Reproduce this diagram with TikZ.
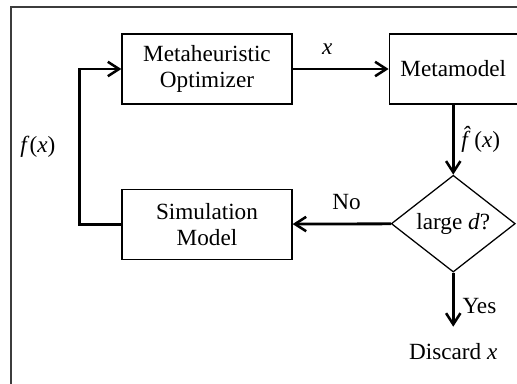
\documentclass[tikz,border=0pt]{standalone}
\usepackage{fontspec}
\setmainfont{Liberation Serif}
\usetikzlibrary{arrows.meta, positioning, shapes.geometric}
\definecolor{FrameColor}{RGB}{60, 60, 60}

\begin{document}
\begin{tikzpicture}[
    node distance=2.1cm and 2.4cm,
    block/.style={
        draw,
        line width=0.9pt,
        minimum width=4.25cm,
        minimum height=1.75cm,
        inner sep=1pt,
        align=center,
        font=\fontsize{16.5}{18.5}\selectfont
    },
    decision/.style={
        draw,
        diamond,
        aspect=1.28,
        line width=0.9pt,
        minimum width=3.1cm,
        minimum height=2.42cm,
        inner sep=0pt,
        align=center,
        font=\fontsize{16.5}{18.5}\selectfont
    },
    arrow/.style={-{Straight Barb[length=2.8mm, width=3.6mm, line width=1.8pt]}, line width=2pt},
    lbl/.style={font=\fontsize{16.5}{18.5}\selectfont}
]

% Canvas and outer frame
\useasboundingbox (0,0) rectangle (12.925,-9.575);
\clip (0,0) rectangle (12.925,-9.575);
\draw[FrameColor, line width=1.6pt] (0.275,-0.175) rectangle (14,-11);

% Blocks
\node[block] at (5.175,-1.725) (optimizer) {Metaheuristic\\Optimizer};
\node[block, right=of optimizer, minimum width=3.2cm] (metamodel) {Metamodel};
\node[block, below=of optimizer] (simulation) {Simulation\\Model};
\node[decision, below=1.75cm of metamodel] (large_d) {large \textit{d}?};
\node[lbl, below=1.65cm of large_d] (discard) {Discard \textit{x}};

% Connections
\draw[arrow] (optimizer) -- (metamodel)
    node[pos=0.36, above=0.2cm, lbl] {\textit{x}};
\draw[arrow] (metamodel) -- (large_d)
    node[midway, right=0.05cm, lbl] {\textit{\^{f}}\kern-1.5pt(\textit{x})};
\draw[arrow] (large_d) -- (simulation)
    node[pos=0.45, above=0.2cm, lbl] {No};
\draw[arrow, shorten >=0.3cm] (large_d) -- (discard)
    node[midway, right=0.08cm, lbl] {Yes};

% Feedback loop
\draw[arrow] (simulation.west) -- ++(-1.05,0) |- (optimizer.west)
    node[pos=0.25, left=0.45cm, lbl] {\textit{f}(\textit{x})};

\end{tikzpicture}
\end{document}
